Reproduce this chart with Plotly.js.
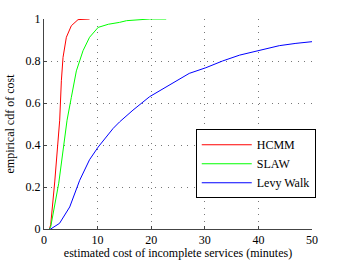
<!DOCTYPE html>
<html><head><meta charset="utf-8">
<script src="https://cdn.plot.ly/plotly-3.0.1.min.js"></script>
<style>html,body{margin:0;padding:0;background:#fff;}#c{width:346px;height:260px;}</style>
</head><body><div id="c"></div>
<script>
const hcmmX = [1.0, 1.25, 2.0, 2.74, 2.93, 3.24, 3.55, 4.17, 5.1, 6.35, 8.5];
const hcmmY = [0, 0.02, 0.224, 0.499, 0.518, 0.706, 0.817, 0.913, 0.968, 0.997, 1.0];
const slawX = [1.0, 1.25, 2.75, 4.17, 4.3, 5.1, 6.04, 7.28, 8.5, 10.1, 12.0, 14.1, 15.4, 19.7, 22.8];
const slawY = [0, 0.01, 0.218, 0.5, 0.518, 0.627, 0.753, 0.849, 0.913, 0.96, 0.975, 0.984, 0.992, 1.0, 1.0];
const levyX = [1.0, 1.25, 2.9, 4.8, 6.66, 8.5, 10.1, 11.6, 12.9, 14.1, 16.6, 19.7, 24.1, 27.1, 30.2, 33.3, 36.5, 40.2, 43.9, 47.0, 50.0];
const levyY = [0, 0, 0.027, 0.105, 0.232, 0.33, 0.39, 0.44, 0.479, 0.51, 0.566, 0.63, 0.696, 0.741, 0.768, 0.80, 0.828, 0.852, 0.873, 0.884, 0.892];
const names = ['HCMM', 'SLAW', 'Levy Walk'];
const colors = ['rgb(255,0,0)', 'rgb(0,255,0)', 'rgb(0,0,255)'];
const xTicks = [0, 10, 20, 30, 40, 50];
const yTicks = [0, 0.2, 0.4, 0.6, 0.8, 1];
const yTickText = ['0', '0.2', '0.4', '0.6', '0.8', '1'];

const series = [[hcmmX, hcmmY], [slawX, slawY], [levyX, levyY]];
const data = series.map((s, i) => ({
  x: s[0], y: s[1], name: names[i], type: 'scatter', mode: 'lines',
  line: {color: colors[i], width: 1}
}));
const font = {family: 'Liberation Serif, DejaVu Serif, serif', size: 12, color: '#000'};
const layout = {
  width: 346, height: 260,
  margin: {l: 44, r: 34, t: 19, b: 31, pad: 0},
  paper_bgcolor: '#fff', plot_bgcolor: '#fff',
  font: font,
  showlegend: true,
  legend: {x: 1.014, xanchor: 'right', y: 0.475, yanchor: 'top',
           itemwidth: 50, tracegroupgap: 0,
           bordercolor: '#000', borderwidth: 1, bgcolor: '#fff', font: font},
  xaxis: {range: [0, 50], tickvals: xTicks, ticktext: xTicks.map(String),
          showgrid: true, gridcolor: '#777', griddash: '1px,5.5px', gridwidth: 1,
          showline: true, linecolor: '#444', linewidth: 1, mirror: false,
          ticks: 'inside', ticklen: 3, tickcolor: '#444', zeroline: false,
          title: {text: 'estimated cost of incomplete services (minutes)', font: font, standoff: 3}},
  yaxis: {range: [0, 1], tickvals: yTicks, ticktext: yTickText,
          showgrid: true, gridcolor: '#777', griddash: '1px,5.5px', gridwidth: 1,
          showline: true, linecolor: '#444', linewidth: 1, mirror: false,
          ticks: 'inside', ticklen: 3, tickcolor: '#444', zeroline: false,
          title: {text: 'empirical cdf of cost', font: font, standoff: 8}}
};
Plotly.newPlot('c', data, layout, {displayModeBar: false, staticPlot: true});
</script></body></html>
